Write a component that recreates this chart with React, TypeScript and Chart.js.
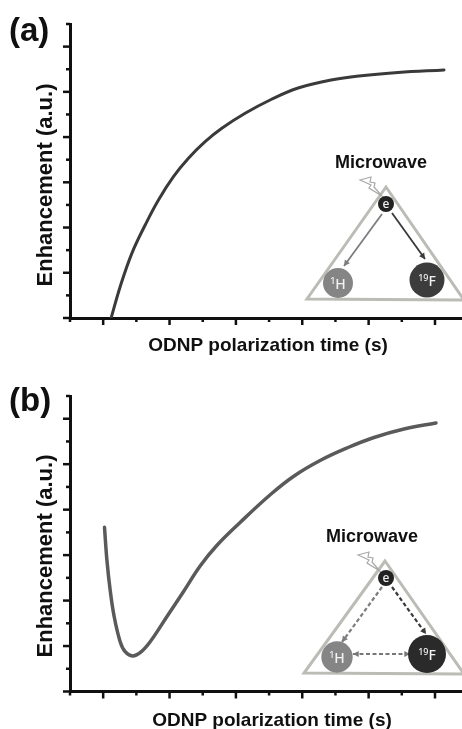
import React, { useEffect, useRef } from "react";
import { Chart, registerables } from "chart.js";

Chart.register(...registerables);

const xTicks = [-0.5, 0, 0.5, 1, 1.5, 2, 2.5, 3, 3.5, 4, 4.5, 5];
const yTicks = [0, 0.5, 1, 1.5, 2, 2.5, 3, 3.5, 4, 4.5, 5, 5.5, 6, 6.5];

const timeA = [0.12, 0.256, 0.432, 0.633, 0.833, 1.059, 1.285, 1.536, 1.788, 2.139, 2.53, 2.937, 3.434, 3.931, 4.443, 5.136];
const enhancementA = [0, 0.692, 1.43, 2.056, 2.609, 3.124, 3.531, 3.898, 4.194, 4.526, 4.831, 5.085, 5.262, 5.362, 5.428, 5.483];

const timeB = [0.02, 0.056, 0.105, 0.166, 0.256, 0.331, 0.441, 0.557, 0.708, 0.959, 1.209, 1.461, 1.712, 2.063, 2.53, 2.877, 3.283, 3.69, 4.081, 4.533, 5.015];
const enhancementB = [3.612, 2.893, 2.233, 1.645, 1.095, 0.875, 0.781, 0.853, 1.095, 1.645, 2.195, 2.761, 3.212, 3.718, 4.344, 4.741, 5.092, 5.367, 5.587, 5.774, 5.906];

const X_TITLE = "ODNP polarization time (s)";
const Y_TITLE = "Enhancement (a.u.)";
const SANS = '"Liberation Sans", Arial, sans-serif';
const INK = "#101010";

type Pt = [number, number];

function arrowHead(ctx: any, from: Pt, to: Pt, color: string) {
  const a = Math.atan2(to[1] - from[1], to[0] - from[0]);
  const s = 6.5;
  ctx.fillStyle = color;
  ctx.beginPath();
  ctx.moveTo(to[0], to[1]);
  ctx.lineTo(to[0] - s * Math.cos(a - 0.5), to[1] - s * Math.sin(a - 0.5));
  ctx.lineTo(to[0] - s * Math.cos(a + 0.5), to[1] - s * Math.sin(a + 0.5));
  ctx.closePath();
  ctx.fill();
}

function arrow(ctx: any, from: Pt, to: Pt, color: string, dashed: boolean, both = false) {
  ctx.save();
  ctx.strokeStyle = color;
  ctx.lineWidth = dashed ? 2.2 : 1.8;
  ctx.setLineDash(dashed ? [4, 2.5] : []);
  ctx.beginPath();
  ctx.moveTo(from[0], from[1]);
  ctx.lineTo(to[0], to[1]);
  ctx.stroke();
  ctx.setLineDash([]);
  arrowHead(ctx, from, to, color);
  if (both) arrowHead(ctx, to, from, color);
  ctx.restore();
}

function atom(ctx: any, c: Pt, r: number, fill: string, sup: string, sym: string) {
  ctx.save();
  ctx.fillStyle = fill;
  ctx.beginPath();
  ctx.arc(c[0], c[1], r, 0, Math.PI * 2);
  ctx.fill();
  ctx.fillStyle = "#f2f2f2";
  ctx.textBaseline = "alphabetic";
  ctx.textAlign = "left";
  ctx.font = '500 9px "Noto Sans", sans-serif';
  const w1 = ctx.measureText(sup).width;
  ctx.font = '500 14px "Noto Sans", sans-serif';
  const w2 = ctx.measureText(sym).width;
  const x0 = c[0] - (w1 + w2) / 2;
  ctx.fillText(sym, x0 + w1, c[1] + 5.5);
  ctx.font = '500 9px "Noto Sans", sans-serif';
  ctx.fillText(sup, x0, c[1] + 0.5);
  ctx.restore();
}

type PanelCfg = {
  top: number;
  height: number;
  axisTop: number;
  axisBottom: number;
  tag: string;
  tagX: number;
  tagY: number;
  xTitleX: number;
  xTitleY: number;
  yTitleY: number;
  micX: number;
  micY: number;
  tri: Pt[];
  e: Pt;
  h: Pt;
  hR: number;
  hFill: string;
  f: Pt;
  fR: number;
  fFill: string;
  eToH: [Pt, Pt];
  eToF: [Pt, Pt];
  hToF?: [Pt, Pt];
  bolt: Pt;
  dashed: boolean;
  lineColor: string;
  lineWidth: number;
  xs: number[];
  ys: number[];
};

const panels: PanelCfg[] = [
  {
    top: 0, height: 365, axisTop: 24, axisBottom: 318,
    tag: "(a)", tagX: 9, tagY: 41,
    xTitleX: 268, xTitleY: 351, yTitleY: 185,
    micX: 381, micY: 168,
    tri: [[386, 187], [307, 299], [464, 300]],
    e: [386, 204], h: [338, 283], hR: 15, hFill: "#858585",
    f: [427, 280], fR: 17.5, fFill: "#3c3c3c",
    eToH: [[382, 214], [344, 266]], eToF: [[392, 213], [425, 259]],
    bolt: [360, 177], dashed: false,
    lineColor: "#3a3a3a", lineWidth: 3, xs: timeA, ys: enhancementA,
  },
  {
    top: 365, height: 364, axisTop: 396, axisBottom: 691.5,
    tag: "(b)", tagX: 9, tagY: 411,
    xTitleX: 272, xTitleY: 726, yTitleY: 556,
    micX: 372, micY: 542,
    tri: [[385, 561], [304, 673], [464, 674]],
    e: [386, 578], h: [337, 657], hR: 15.7, hFill: "#858585",
    f: [427, 654], fR: 19, fFill: "#2a2a2a",
    eToH: [[382, 587], [342, 642]], eToF: [[392, 587], [426, 634]],
    hToF: [[353, 654], [410, 654]],
    bolt: [358, 552], dashed: true,
    lineColor: "#5a5a5a", lineWidth: 3.5, xs: timeB, ys: enhancementB,
  },
];

function makePlugin(p: PanelCfg) {
  return {
    id: "panelDecor",
    afterDraw(chart: any) {
      const ctx = chart.ctx;
      const xs = chart.scales.x;
      const ys = chart.scales.y;
      ctx.save();
      // tick marks, long on major and short on minor values
      ctx.strokeStyle = INK;
      ctx.lineWidth = 2.5;
      xs.ticks.forEach((t: any) => {
        const px = xs.getPixelForValue(t.value);
        ctx.beginPath();
        ctx.moveTo(px, ys.bottom);
        ctx.lineTo(px, ys.bottom + (t.major ? 7 : 4));
        ctx.stroke();
      });
      ys.ticks.forEach((t: any) => {
        const py = ys.getPixelForValue(t.value);
        ctx.beginPath();
        ctx.moveTo(xs.left, py);
        ctx.lineTo(xs.left - (t.major ? 7 : 4), py);
        ctx.stroke();
      });

      ctx.translate(0, -p.top);
      ctx.fillStyle = INK;
      ctx.textBaseline = "alphabetic";

      ctx.textAlign = "left";
      ctx.font = `bold 33px ${SANS}`;
      ctx.fillText(p.tag, p.tagX, p.tagY);

      ctx.textAlign = "center";
      ctx.font = `bold 19px ${SANS}`;
      ctx.fillText(X_TITLE, p.xTitleX, p.xTitleY);

      ctx.save();
      ctx.translate(52, p.yTitleY);
      ctx.rotate(-Math.PI / 2);
      ctx.font = `bold 22px ${SANS}`;
      ctx.fillText(Y_TITLE, 0, 0);
      ctx.restore();

      // inset diagram
      ctx.font = `bold 18px ${SANS}`;
      ctx.fillText("Microwave", p.micX, p.micY);

      ctx.strokeStyle = "#bcbcb6";
      ctx.lineWidth = 3;
      ctx.lineJoin = "miter";
      ctx.beginPath();
      p.tri.forEach((q, i) => (i ? ctx.lineTo(q[0], q[1]) : ctx.moveTo(q[0], q[1])));
      ctx.closePath();
      ctx.stroke();

      const [bx, by] = p.bolt;
      const bolt: Pt[] = [[0, 3], [11, 0], [10, 5], [15, 6], [14, 10], [22, 19], [9, 11], [11, 8]];
      ctx.fillStyle = "#ffffff";
      ctx.strokeStyle = "#a8a8a8";
      ctx.lineWidth = 1.2;
      ctx.beginPath();
      bolt.forEach((q, i) => (i ? ctx.lineTo(bx + q[0], by + q[1]) : ctx.moveTo(bx + q[0], by + q[1])));
      ctx.closePath();
      ctx.fill();
      ctx.stroke();

      arrow(ctx, p.eToH[0], p.eToH[1], "#7d7d7d", p.dashed);
      arrow(ctx, p.eToF[0], p.eToF[1], "#3a3a3a", p.dashed);
      if (p.hToF) arrow(ctx, p.hToF[0], p.hToF[1], "#777777", true, true);

      atom(ctx, p.h, p.hR, p.hFill, "1", "H");
      atom(ctx, p.f, p.fR, p.fFill, "19", "F");

      ctx.fillStyle = "#222222";
      ctx.beginPath();
      ctx.arc(p.e[0], p.e[1], 8, 0, Math.PI * 2);
      ctx.fill();
      ctx.fillStyle = "#f2f2f2";
      ctx.textAlign = "center";
      ctx.font = '500 12px "Noto Sans", sans-serif';
      ctx.fillText("e", p.e[0], p.e[1] + 4);
      ctx.restore();
    },
  };
}

function Panel({ cfg }: { cfg: PanelCfg }) {
  const ref = useRef<HTMLCanvasElement | null>(null);
  useEffect(() => {
    const axisLine = { display: true, color: INK, width: 3 };
    const chart = new Chart(ref.current as HTMLCanvasElement, {
      type: "line",
      data: {
        datasets: [
          {
            data: cfg.xs.map((x, i) => ({ x, y: cfg.ys[i] })),
            borderColor: cfg.lineColor,
            borderWidth: cfg.lineWidth,
            pointRadius: 0,
            tension: 0.4,
            borderCapStyle: "round",
            fill: false,
          },
        ],
      },
      options: {
        responsive: false,
        animation: false,
        layout: {
          padding: {
            left: 70,
            right: 0,
            top: cfg.axisTop - cfg.top,
            bottom: cfg.top + cfg.height - cfg.axisBottom,
          },
        },
        plugins: { legend: { display: false }, tooltip: { enabled: false }, title: { display: false } },
        scales: {
          x: {
            type: "linear",
            min: -0.5,
            max: 5.407,
            grid: { display: false },
            border: axisLine,
            ticks: { display: false },
            afterBuildTicks: (s: any) => {
              s.ticks = xTicks.map((value) => ({ value, major: Number.isInteger(value) }));
            },
            afterFit: (s: any) => {
              s.height = 0;
            },
          },
          y: {
            type: "linear",
            min: 0,
            max: 6.5,
            grid: { display: false },
            border: axisLine,
            ticks: { display: false },
            afterBuildTicks: (s: any) => {
              s.ticks = yTicks.map((value) => ({ value, major: Number.isInteger(value) }));
            },
            afterFit: (s: any) => {
              s.width = 0;
            },
          },
        },
      },
      plugins: [makePlugin(cfg)],
    } as any);
    return () => chart.destroy();
  }, [cfg]);
  return (
    <canvas
      ref={ref}
      width={462}
      height={cfg.height}
      style={{ position: "absolute", left: 0, top: cfg.top, width: 462, height: cfg.height }}
    />
  );
}

export default function App() {
  return (
    <div style={{ position: "fixed", left: 0, top: 0, width: 462, height: 729, background: "#fff", overflow: "hidden" }}>
      {panels.map((p) => (
        <Panel key={p.tag} cfg={p} />
      ))}
    </div>
  );
}
